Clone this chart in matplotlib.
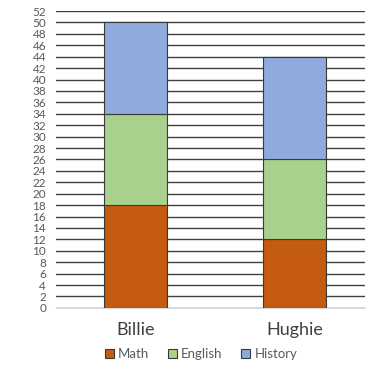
import matplotlib.pyplot as plt
import numpy as np

names = ['Billie', 'Hughie']
subjects = ['Math', 'English', 'History']
math = [18, 12]
english = [16, 14]
history = [16, 18]
couleurs = ['#C55A11', '#A9D18E', '#8FAADC']

plt.rcParams['font.family'] = ['Lato', 'DejaVu Sans']

fig = plt.figure(figsize=(3.75, 3.67), dpi=100)
ax = fig.add_axes([0.149, 0.161, 0.824, 0.809])

x = np.arange(len(names))
bas = np.zeros(len(names))
for serie, nom, c in zip([math, english, history], subjects, couleurs):
    ax.bar(x, serie, 0.395, bottom=bas, color=c, edgecolor='#3a3a3a',
           linewidth=0.8, label=nom, zorder=3)
    bas = bas + np.array(serie)

ax.set_ylim(0, 52)
ax.set_xlim(-0.498, 1.439)
ax.set_yticks(range(0, 53, 2))
ax.yaxis.grid(True, color='#404040', linewidth=1.0, zorder=0)
ax.set_xticks(x)
ax.set_xticklabels(names, fontsize=13, color='#404040')
ax.tick_params(axis='y', length=0, labelsize=8.5, labelcolor='#595959', pad=7)
ax.tick_params(axis='x', length=0, pad=10)
for s in ['top', 'right', 'left']:
    ax.spines[s].set_visible(False)
ax.spines['bottom'].set_color('#d9d9d9')

ax.legend(loc='upper center', bbox_to_anchor=(0.47, -0.095), ncol=3, frameon=False,
          fontsize=9.5, handlelength=0.7, handleheight=0.7, handletextpad=0.3,
          columnspacing=1.4, labelcolor='#595959')

fig.savefig('out.png', dpi=100)
